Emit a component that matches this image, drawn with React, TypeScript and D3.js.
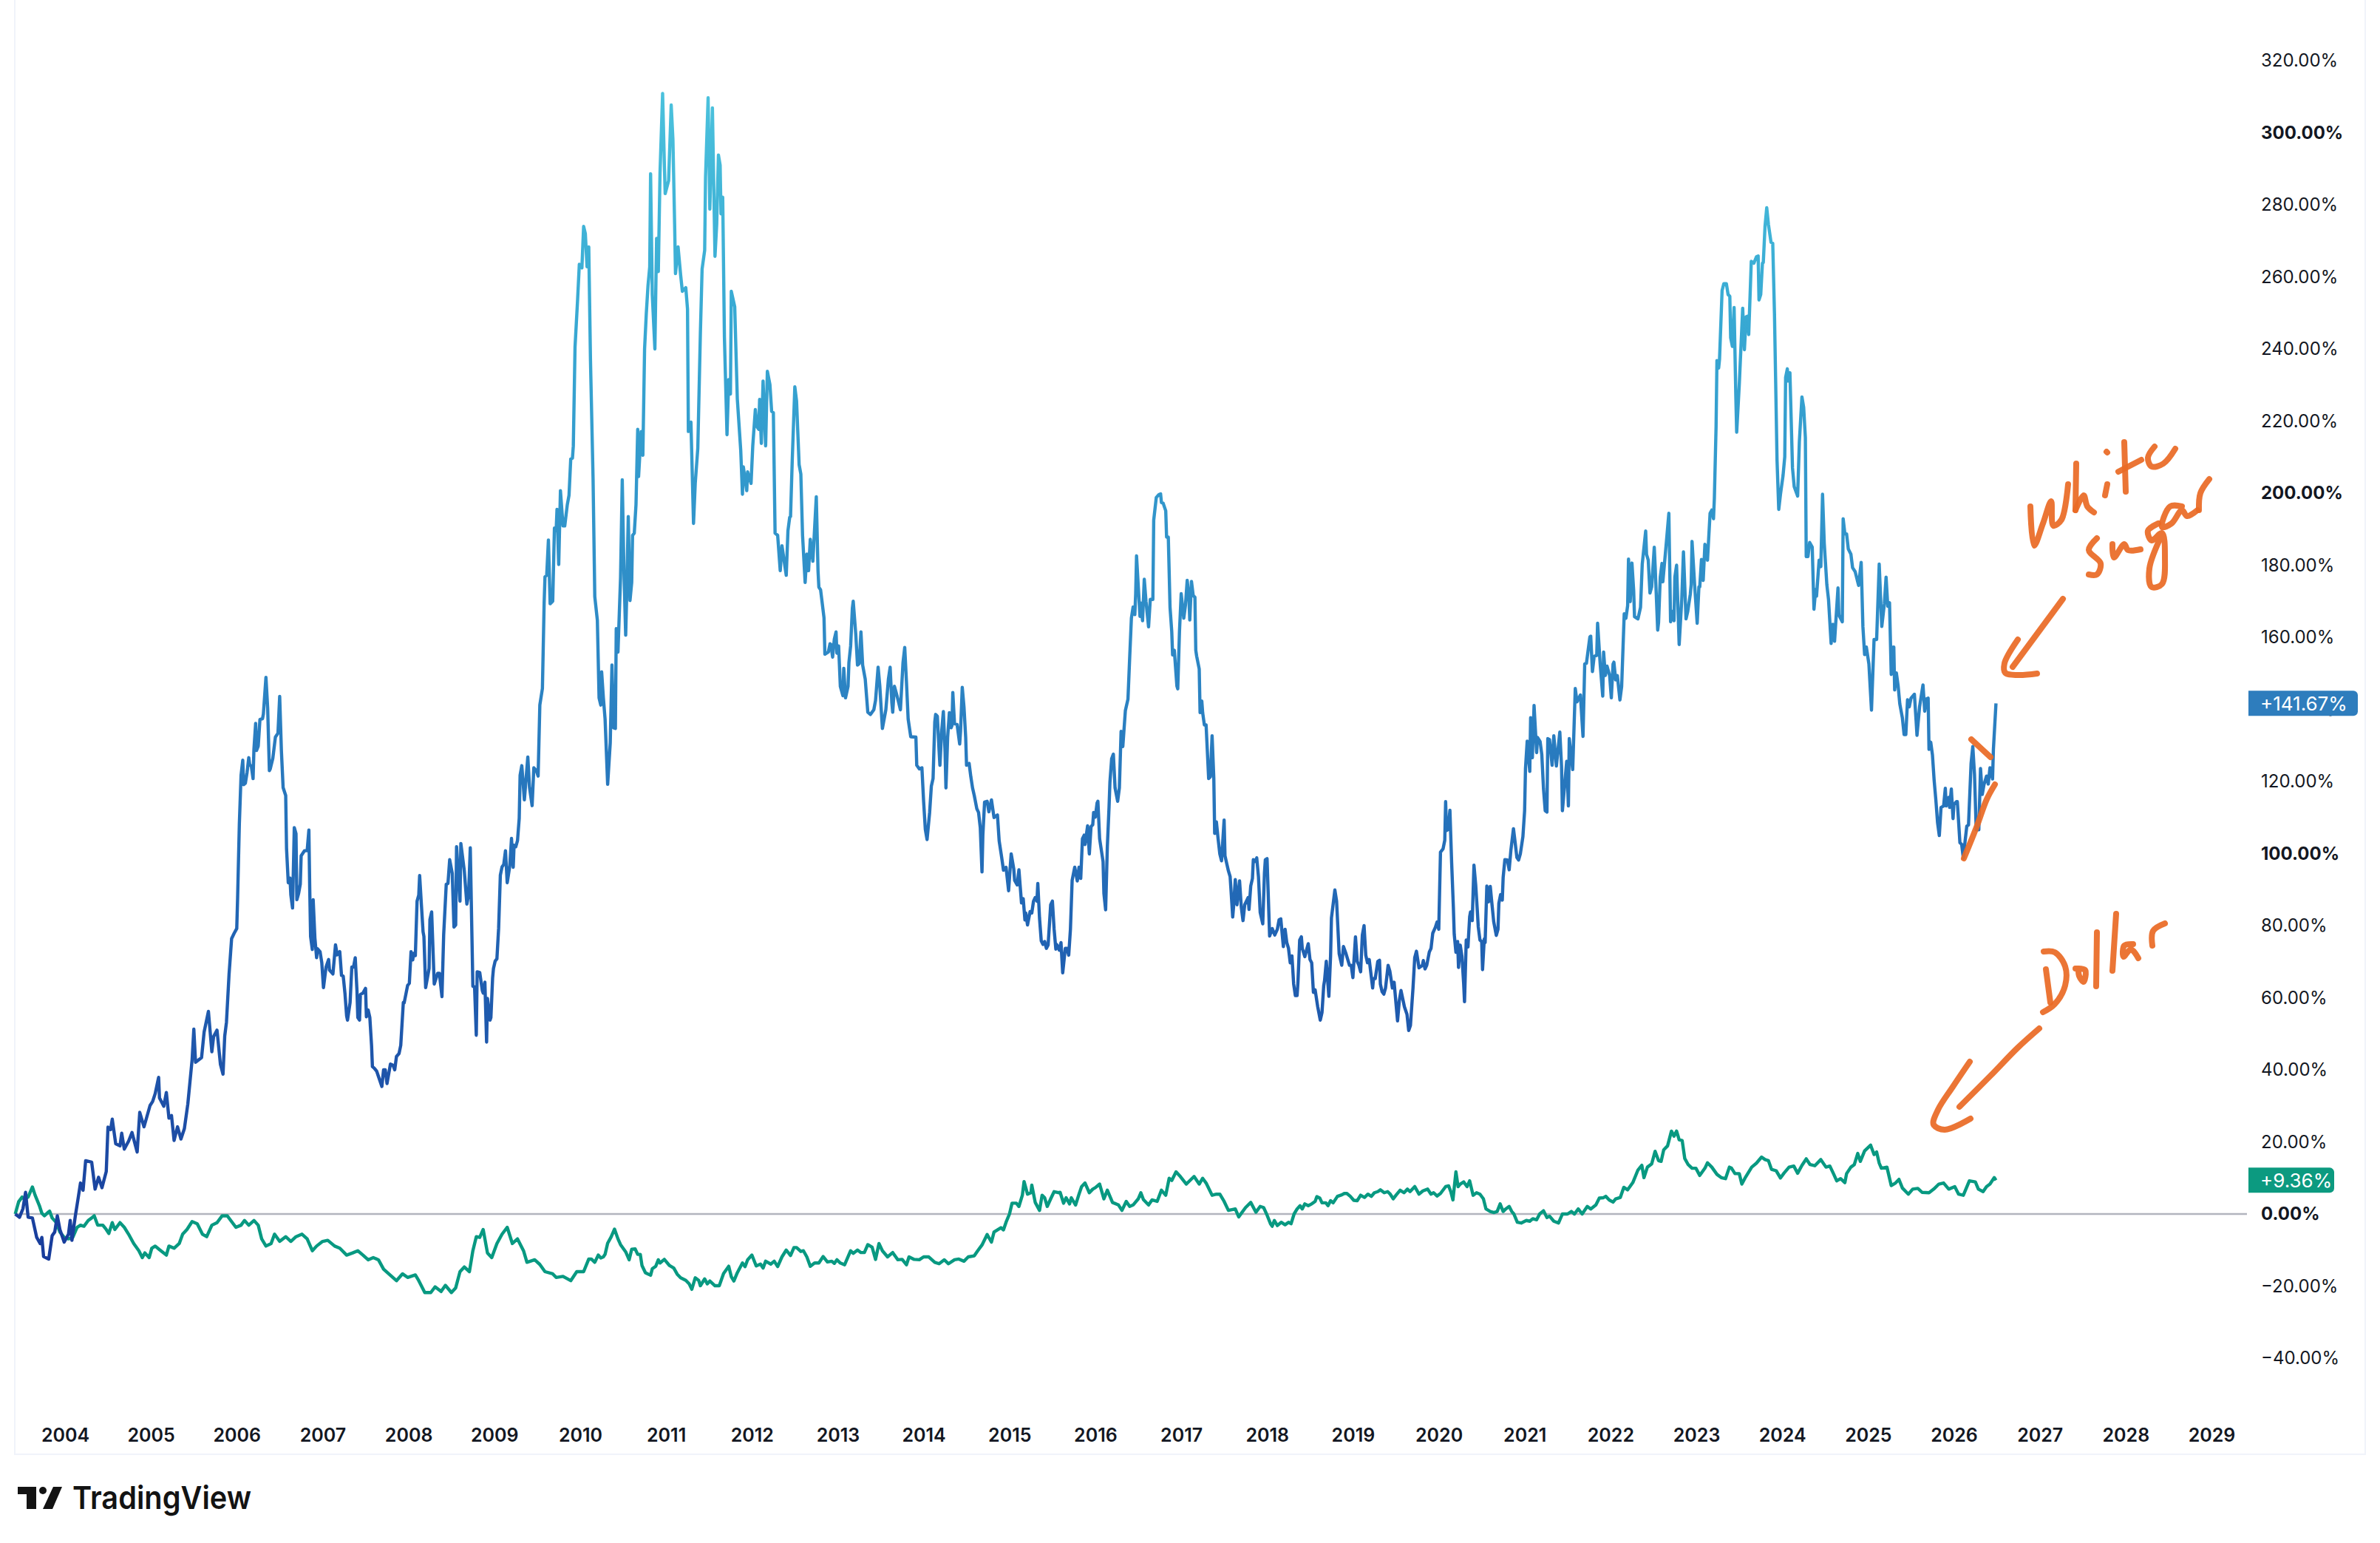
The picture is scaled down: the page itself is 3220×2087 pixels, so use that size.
import React, { useRef, useEffect } from 'react';
import * as d3 from 'd3';

// readings: [decimal year, % change]
const sugarSeries: [number, number][] = [
  [2003.42,0],[2003.47,-0.9],[2003.51,1.5],[2003.54,6],[2003.57,-0.9],[2003.62,-1.1],[2003.67,-6.5],[2003.71,-8.2],[2003.73,-6.5],[2003.75,-11.8],[2003.81,-12.5],[2003.85,-6],[2003.88,-5],[2003.91,-0.5],[2003.94,-4.3],[2003.99,-7.8],
  [2004.04,-5.6],[2004.06,-1.8],[2004.08,-7.3],[2004.12,-0.5],[2004.15,4],[2004.18,8.6],[2004.21,6.6],[2004.24,14.8],[2004.31,14.4],[2004.35,6.9],[2004.39,10.2],[2004.43,7.3],[2004.48,11.8],[2004.5,24.1],[2004.53,23.4],[2004.55,26.3],[2004.59,19.5],[2004.64,18.9],[2004.66,22.4],[2004.69,18],[2004.74,20.2],[2004.78,22.6],[2004.84,17.2],[2004.87,28.2],[2004.92,24.2],[2004.99,30.1],
  [2005.02,31.2],[2005.05,33.4],[2005.09,37.9],[2005.1,32.2],[2005.15,29.9],[2005.18,33.7],[2005.21,26.6],[2005.24,27.3],[2005.27,20.4],[2005.31,24.2],[2005.35,20.8],[2005.39,23.7],[2005.43,30.5],[2005.48,42.8],[2005.5,51.3],[2005.52,42.1],[2005.59,43.4],[2005.62,50.5],[2005.67,56.2],[2005.71,45],[2005.73,49.2],[2005.77,51],[2005.81,41.5],[2005.84,38.8],[2005.86,49.4],[2005.88,53.2],[2005.91,66.4],[2005.94,76.4],[2005.97,77.9],
  [2006,79.2],[2006.01,87.7],[2006.03,108.1],[2006.05,121.7],[2006.07,125.9],[2006.08,119.1],[2006.1,119.5],[2006.12,122.5],[2006.14,126.6],[2006.15,124.7],[2006.17,124.2],[2006.19,120.8],[2006.2,128.9],[2006.22,136.1],[2006.23,128.6],[2006.25,129.8],[2006.27,137.2],[2006.3,137.4],[2006.31,138.7],[2006.34,148.9],[2006.36,140.4],[2006.38,123],[2006.39,123.5],[2006.42,126.4],[2006.45,132.3],[2006.48,133.4],[2006.5,143.6],[2006.52,128.5],[2006.54,118.3],[2006.57,116.1],[2006.58,101.3],[2006.6,91.9],[2006.62,93.2],[2006.63,88.5],[2006.65,84.9],[2006.67,107.2],[2006.69,105.5],[2006.7,87.2],[2006.72,88.9],[2006.74,91.5],[2006.75,99.4],[2006.79,100.8],[2006.82,100.8],[2006.84,106.5],[2006.85,90.2],[2006.86,77],[2006.88,73.4],[2006.89,87.2],[2006.91,76.6],[2006.93,71.1],[2006.94,73.6],[2006.97,72.8],[2006.99,69.8],
  [2007.01,62.8],[2007.04,68.5],[2007.07,70.6],[2007.08,67.7],[2007.12,66.6],[2007.15,74.7],[2007.17,71.9],[2007.2,72.8],[2007.22,66.2],[2007.24,66],[2007.26,61.3],[2007.28,54.9],[2007.29,53.8],[2007.32,58.7],[2007.34,68.5],[2007.36,68.5],[2007.38,71.1],[2007.4,62.1],[2007.41,54.5],[2007.43,53.8],[2007.44,60.9],[2007.47,61.3],[2007.5,62.6],[2007.51,54.7],[2007.53,56.6],[2007.55,54.5],[2007.57,46.8],[2007.58,40.9],[2007.6,40.5],[2007.63,39.6],[2007.66,37.5],[2007.69,35.4],[2007.71,40],[2007.73,40],[2007.75,36.2],[2007.79,41.6],[2007.82,41.3],[2007.84,40],[2007.86,43.7],[2007.89,44.5],[2007.91,46.8],[2007.94,58.7],[2007.95,58.6],[2007.99,63.4],
  [2008.01,64],[2008.03,72.8],[2008.05,70.5],[2008.06,72.3],[2008.08,71.7],[2008.1,86.8],[2008.12,88.5],[2008.13,93.9],[2008.15,86],[2008.17,78.3],[2008.18,77],[2008.2,62.8],[2008.24,68.1],[2008.25,81.7],[2008.27,83.8],[2008.3,63.8],[2008.34,66.8],[2008.36,66.8],[2008.39,60.3],[2008.41,77.5],[2008.44,91.5],[2008.46,91.7],[2008.48,98.3],[2008.51,94.5],[2008.53,79.6],[2008.55,80.2],[2008.56,101.9],[2008.6,86.8],[2008.61,102.8],[2008.65,95.3],[2008.68,86],[2008.7,88.5],[2008.72,101.6],[2008.75,63.2],[2008.77,63],[2008.79,49.6],[2008.8,67.2],[2008.83,67],[2008.86,62],[2008.87,61.3],[2008.89,64.3],[2008.91,47.7],[2008.92,59.8],[2008.95,53.8],[2008.96,54.5],[2008.98,65.5],[2008.99,68.1],
  [2009.01,70.2],[2009.03,70.8],[2009.05,79.2],[2009.07,94],[2009.09,96.3],[2009.11,97],[2009.13,100.8],[2009.15,91.9],[2009.18,96.6],[2009.2,104.2],[2009.22,96.2],[2009.23,102.3],[2009.25,101.9],[2009.27,103.6],[2009.29,109.8],[2009.3,121.7],[2009.32,124.4],[2009.35,114.9],[2009.39,126.8],[2009.41,118.3],[2009.44,113.3],[2009.46,123.8],[2009.49,123],[2009.51,121.5],[2009.53,141.2],[2009.56,145.8],[2009.58,169.3],[2009.59,176.8],[2009.61,177.2],[2009.63,187],[2009.65,169.3],[2009.68,170],[2009.7,190.3],[2009.72,189.6],[2009.73,195.5],[2009.75,180.2],[2009.77,200.7],[2009.8,190.9],[2009.82,190.9],[2009.85,196.8],[2009.87,199.4],[2009.89,209.5],[2009.91,209.7],[2009.92,213.1],[2009.94,240.6],[2009.97,253.7],[2009.99,263.5],
  [2010.02,262.5],[2010.04,274],[2010.06,272],[2010.08,262.8],[2010.1,268.3],[2010.12,236.7],[2010.15,204],[2010.17,171.3],[2010.2,164.7],[2010.22,143.2],[2010.24,141.2],[2010.25,150.4],[2010.27,143.2],[2010.29,137.3],[2010.32,119.2],[2010.35,130.7],[2010.37,152.3],[2010.39,134.9],[2010.41,134.7],[2010.42,162.4],[2010.44,155.9],[2010.47,176.5],[2010.49,203.7],[2010.51,177.8],[2010.53,160.6],[2010.54,170],[2010.56,193.5],[2010.58,170.2],[2010.6,175.2],[2010.61,188.3],[2010.63,188.9],[2010.65,196.8],[2010.67,217.7],[2010.68,204.6],[2010.71,217.1],[2010.73,210.5],[2010.75,240],[2010.77,249.8],[2010.79,257.6],[2010.81,262.8],[2010.82,288.6],[2010.84,255],[2010.87,240],[2010.89,270.7],[2010.91,261.5],[2010.93,289],[2010.96,310.9],[2010.98,291.6],[2010.99,283.1],
  [2011.03,286.7],[2011.06,307.7],[2011.08,298.2],[2011.1,274.6],[2011.11,260.9],[2011.14,268.3],[2011.17,260.5],[2011.19,256],[2011.23,257],[2011.25,251.1],[2011.26,217.1],[2011.29,219.7],[2011.32,191.6],[2011.34,202.7],[2011.37,212.5],[2011.4,244.5],[2011.42,262.2],[2011.45,267.4],[2011.46,287.7],[2011.49,309.7],[2011.51,278.8],[2011.54,306.9],[2011.57,265.7],[2011.59,274.6],[2011.61,293.8],[2011.63,291],[2011.64,277.5],[2011.66,282.1],[2011.68,243.2],[2011.71,216.2],[2011.73,231.5],[2011.75,227.5],[2011.76,256],[2011.8,251.7],[2011.83,226.2],[2011.87,211.8],[2011.89,199.7],[2011.9,207.3],[2011.94,200.7],[2011.95,205.9],[2011.99,202.7],
  [2012.01,213.1],[2012.04,223.2],[2012.06,218.4],[2012.08,217.7],[2012.09,226],[2012.11,213.8],[2012.13,231.1],[2012.16,213.1],[2012.18,233.8],[2012.21,230.1],[2012.23,222.7],[2012.25,222.3],[2012.27,188.9],[2012.3,188.3],[2012.33,178.5],[2012.35,185.4],[2012.4,177.2],[2012.42,189.6],[2012.44,193.3],[2012.45,193.5],[2012.47,209.2],[2012.5,229.5],[2012.52,225.6],[2012.55,207.9],[2012.57,205.3],[2012.59,188.3],[2012.62,175.2],[2012.64,183.1],[2012.66,178.5],[2012.68,187.2],[2012.71,181.1],[2012.75,199],[2012.77,178.5],[2012.78,173.9],[2012.8,173.2],[2012.84,165.4],[2012.85,155.3],[2012.89,155.9],[2012.91,158.2],[2012.92,158],[2012.94,154.5],[2012.96,159.5],[2012.98,161.5],[2012.99,155.6],
  [2013.01,157.6],[2013.03,146.4],[2013.06,143.8],[2013.07,151.4],[2013.09,143.2],[2013.12,146.4],[2013.13,153],[2013.15,157.6],[2013.17,168],[2013.18,170],[2013.21,160.8],[2013.23,152.3],[2013.25,152.7],[2013.27,161.5],[2013.29,152.3],[2013.32,148.4],[2013.35,139.2],[2013.38,138.6],[2013.42,139.9],[2013.44,142.5],[2013.47,151.7],[2013.49,146.4],[2013.52,134.7],[2013.56,139.9],[2013.59,148.4],[2013.61,151.7],[2013.63,141.9],[2013.64,139.2],[2013.66,146.4],[2013.69,143.8],[2013.73,139.9],[2013.76,153],[2013.78,157.2],[2013.8,147.7],[2013.82,137.3],[2013.85,132.4],[2013.91,132.3],[2013.92,124.5],[2013.95,123.5],[2013.98,123.8],
  [2014,114.5],[2014.02,106.7],[2014.04,103.9],[2014.07,111.4],[2014.09,118.7],[2014.11,120.8],[2014.13,136.5],[2014.14,138.6],[2014.16,138.1],[2014.18,128.7],[2014.19,124.5],[2014.21,133.9],[2014.23,139.4],[2014.25,128.1],[2014.26,118.2],[2014.28,132.3],[2014.3,139.1],[2014.32,134.9],[2014.33,135.5],[2014.34,144.7],[2014.36,136],[2014.39,135.8],[2014.42,130.4],[2014.43,133.9],[2014.45,146.1],[2014.47,140.7],[2014.49,132.3],[2014.5,124.5],[2014.53,125],[2014.55,121.3],[2014.57,118.2],[2014.59,116.1],[2014.62,112.4],[2014.64,111.4],[2014.66,107.2],[2014.68,94.9],[2014.69,105.1],[2014.71,114.3],[2014.74,114.5],[2014.76,111.6],[2014.79,114.9],[2014.82,110],[2014.86,110.7],[2014.88,103.5],[2014.91,98.8],[2014.93,95.4],[2014.96,96.2],[2014.99,89.7],
  [2015.01,96.7],[2015.02,99.9],[2015.05,95.7],[2015.06,92.6],[2015.09,91.3],[2015.11,95.5],[2015.13,89.4],[2015.14,86.3],[2015.16,87.5],[2015.18,81.6],[2015.19,83.5],[2015.21,80.2],[2015.24,83.9],[2015.26,83.5],[2015.28,86.8],[2015.3,87.8],[2015.32,86.8],[2015.33,91.7],[2015.35,82.1],[2015.37,75.8],[2015.39,74.8],[2015.41,75.6],[2015.43,73.7],[2015.45,74.6],[2015.48,85.8],[2015.5,86.8],[2015.52,79],[2015.54,73.5],[2015.55,74.8],[2015.58,73.2],[2015.6,75.3],[2015.62,66.9],[2015.65,73.7],[2015.67,73.7],[2015.69,71.8],[2015.71,79],[2015.73,92.6],[2015.76,96.2],[2015.79,92.4],[2015.81,96.2],[2015.83,93.1],[2015.85,104.1],[2015.87,105.1],[2015.88,102.5],[2015.91,107.7],[2015.93,99.9],[2015.95,107.5],[2015.97,108],[2015.98,111.4],
  [2016,110.1],[2016.02,114],[2016.03,114.5],[2016.05,104.1],[2016.09,97.8],[2016.1,88.9],[2016.12,84.4],[2016.14,102],[2016.16,113],[2016.17,119.8],[2016.19,126.3],[2016.21,127.6],[2016.23,118.2],[2016.26,114.5],[2016.28,118.2],[2016.3,133.9],[2016.32,129.7],[2016.35,139.7],[2016.38,142.8],[2016.4,154.3],[2016.42,165.3],[2016.44,168.4],[2016.46,166.3],[2016.47,172.1],[2016.48,182.6],[2016.5,174.2],[2016.52,165.8],[2016.53,169.5],[2016.55,164.6],[2016.57,176.1],[2016.59,170],[2016.62,162.9],[2016.64,170.5],[2016.67,170.5],[2016.68,192.5],[2016.71,198.8],[2016.74,199.6],[2016.76,199.8],[2016.77,197.4],[2016.79,197.2],[2016.82,195.1],[2016.83,187.8],[2016.85,187.8],[2016.87,168.4],[2016.89,161.6],[2016.9,155.1],[2016.92,156.4],[2016.95,146.5],[2016.96,145.7],[2016.98,161.6],
  [2017,172.1],[2017.03,165.3],[2017.05,169],[2017.07,175.8],[2017.09,171.1],[2017.1,164.8],[2017.12,175.5],[2017.14,171.6],[2017.16,171.1],[2017.17,156.4],[2017.18,154.8],[2017.21,151.2],[2017.22,139.1],[2017.24,142.3],[2017.25,139.1],[2017.27,135.7],[2017.29,135.7],[2017.32,120.8],[2017.34,121.3],[2017.36,132.7],[2017.38,120.8],[2017.39,105.6],[2017.41,108.8],[2017.43,104.1],[2017.45,99.9],[2017.47,98],[2017.5,109.3],[2017.51,99.4],[2017.55,95.2],[2017.57,93.6],[2017.59,86.3],[2017.6,82.4],[2017.61,85.2],[2017.63,92.8],[2017.65,85.8],[2017.68,92.4],[2017.7,85.2],[2017.72,81.4],[2017.74,85.8],[2017.78,87.8],[2017.79,84.5],[2017.81,91],[2017.83,93.1],[2017.84,98.3],[2017.86,97.8],[2017.88,98.8],[2017.9,93.6],[2017.92,83.7],[2017.95,80.5],[2017.97,94.7],[2017.98,98.3],
  [2018,98.6],[2018.03,77.1],[2018.06,79.2],[2018.09,77.4],[2018.12,79],[2018.14,81.6],[2018.16,81.9],[2018.19,74.2],[2018.21,79],[2018.23,75.3],[2018.25,73.7],[2018.27,69.7],[2018.29,71.6],[2018.31,63.8],[2018.33,60.6],[2018.35,60.6],[2018.36,64.3],[2018.38,76],[2018.4,76.9],[2018.41,73.7],[2018.44,71.4],[2018.48,75],[2018.5,70.6],[2018.52,69.7],[2018.54,61.5],[2018.56,62.2],[2018.59,57.5],[2018.62,53.8],[2018.64,55.9],[2018.66,63.3],[2018.67,64.8],[2018.69,70.1],[2018.72,60.4],[2018.74,71.6],[2018.75,82.1],[2018.79,89.9],[2018.81,86.8],[2018.84,72.2],[2018.87,69],[2018.89,74.2],[2018.92,72.2],[2018.96,69],[2018.98,69],
  [2019,65.6],[2019.03,76.9],[2019.05,70.1],[2019.07,69],[2019.09,67.2],[2019.11,77.4],[2019.13,80],[2019.15,71.8],[2019.17,69.7],[2019.19,70.6],[2019.23,62.7],[2019.24,65.3],[2019.26,65.3],[2019.29,70.1],[2019.31,70.4],[2019.32,63.8],[2019.34,61.7],[2019.36,61],[2019.38,62.7],[2019.41,69],[2019.43,67.4],[2019.46,62.7],[2019.48,64.3],[2019.52,53.6],[2019.54,59.1],[2019.56,62],[2019.6,57.5],[2019.63,55.4],[2019.65,50.9],[2019.67,52.3],[2019.7,62.7],[2019.72,71.1],[2019.74,72.9],[2019.77,68.3],[2019.81,69],[2019.82,70.3],[2019.84,68],[2019.86,69],[2019.89,72.7],[2019.91,73.7],[2019.93,77.9],[2019.96,79.5],[2019.98,81],
  [2020,79],[2020.02,100.4],[2020.05,101.3],[2020.07,103.7],[2020.08,114.4],[2020.09,106.4],[2020.11,106.7],[2020.13,112],[2020.15,97.5],[2020.17,85.2],[2020.18,77.7],[2020.2,72.6],[2020.21,72.6],[2020.22,75.6],[2020.23,68.4],[2020.25,74.6],[2020.27,71.5],[2020.29,64],[2020.3,58.9],[2020.32,76],[2020.34,74.1],[2020.36,82.5],[2020.37,83.8],[2020.39,81.4],[2020.41,96.8],[2020.43,91.4],[2020.45,83.8],[2020.46,79.7],[2020.48,76],[2020.5,75.6],[2020.51,67.8],[2020.53,76.3],[2020.54,75.3],[2020.56,91],[2020.58,86.6],[2020.6,90.9],[2020.62,85.9],[2020.64,81.1],[2020.67,77.3],[2020.69,79],[2020.7,86.2],[2020.72,88.6],[2020.74,87.1],[2020.75,93.4],[2020.77,98.3],[2020.8,98.2],[2020.82,95.5],[2020.84,100.9],[2020.87,106.9],[2020.89,103],[2020.91,98.9],[2020.93,98.2],[2020.95,99.9],[2020.98,104.7],
  [2021,111.9],[2021.01,123.5],[2021.03,131.2],[2021.06,122.8],[2021.07,137.7],[2021.09,126.6],[2021.11,141.1],[2021.14,128],[2021.15,132.2],[2021.18,131.1],[2021.2,127.5],[2021.22,118],[2021.24,111.9],[2021.26,111.5],[2021.27,131.9],[2021.29,131.6],[2021.32,124.5],[2021.34,132.7],[2021.37,124.3],[2021.41,133.7],[2021.43,124.3],[2021.44,111.9],[2021.49,125.6],[2021.51,113.2],[2021.52,131.9],[2021.56,123.3],[2021.59,145.8],[2021.61,142.1],[2021.65,144],[2021.68,132.5],[2021.7,152.6],[2021.72,152.8],[2021.76,160.1],[2021.77,160.3],[2021.79,150.5],[2021.81,154.7],[2021.84,155],[2021.85,163.9],[2021.88,152.6],[2021.91,143.7],[2021.92,155.9],[2021.94,149.4],[2021.96,152],[2021.99,149.4],
  [2022.01,143.2],[2022.03,152.6],[2022.04,153.1],[2022.06,148.2],[2022.08,149.4],[2022.11,142.6],[2022.13,146.3],[2022.16,166.5],[2022.18,165.3],[2022.2,168.8],[2022.21,181.7],[2022.23,169.9],[2022.25,180.6],[2022.27,173],[2022.28,165.7],[2022.32,165.1],[2022.35,168.3],[2022.37,180.3],[2022.41,189.5],[2022.42,183],[2022.44,181.4],[2022.46,172.3],[2022.48,174],[2022.51,185],[2022.52,179.8],[2022.55,162],[2022.56,164.1],[2022.58,176.7],[2022.6,180.5],[2022.61,175.4],[2022.65,186.1],[2022.68,194.4],[2022.7,164.3],[2022.72,167.2],[2022.74,164.6],[2022.75,176.7],[2022.77,180],[2022.8,158],[2022.83,170.4],[2022.85,183.7],[2022.88,165.1],[2022.9,167.2],[2022.93,172],[2022.94,174.6],[2022.95,186.6],[2022.98,174.6],
  [2023.01,163.9],[2023.03,174],[2023.04,174],[2023.06,181.6],[2023.08,175.8],[2023.1,185.8],[2023.11,185],[2023.13,181.4],[2023.16,194.4],[2023.18,195.3],[2023.2,192.9],[2023.21,198.6],[2023.23,218.5],[2023.24,236.8],[2023.26,234.7],[2023.27,237.1],[2023.3,256.2],[2023.32,258.1],[2023.35,258.1],[2023.37,255.1],[2023.39,254.6],[2023.4,243.1],[2023.42,240.7],[2023.44,251.5],[2023.46,226.9],[2023.47,216.9],[2023.5,230],[2023.54,251.3],[2023.56,239.8],[2023.58,248.9],[2023.6,249.1],[2023.61,244],[2023.64,264.3],[2023.67,263.8],[2023.7,265.6],[2023.72,265.8],[2023.73,253.6],[2023.75,255.1],[2023.77,263.8],[2023.78,264],[2023.8,274],[2023.82,279.2],[2023.84,274.5],[2023.87,269.6],[2023.89,269.3],[2023.91,249.9],[2023.93,222.7],[2023.94,209.1],[2023.96,195.5],[2023.98,199.7],
  [2024.01,204.9],[2024.03,210.1],[2024.04,232.1],[2024.06,234.5],[2024.07,231.1],[2024.09,233.4],[2024.12,207],[2024.14,201.8],[2024.18,199.2],[2024.2,214.3],[2024.23,226.7],[2024.25,223.8],[2024.27,215.4],[2024.28,182.4],[2024.3,182.4],[2024.32,186.3],[2024.35,185],[2024.37,167.8],[2024.39,173.3],[2024.4,171.4],[2024.43,181.4],[2024.45,179.6],[2024.47,199.7],[2024.49,186.1],[2024.52,174.6],[2024.54,170.4],[2024.57,158.3],[2024.59,163.6],[2024.61,158.9],[2024.65,173.7],[2024.66,166.2],[2024.7,164.3],[2024.71,192.9],[2024.73,188.7],[2024.75,188.7],[2024.77,184.5],[2024.8,183.1],[2024.82,179.3],[2024.85,178.2],[2024.89,174.4],[2024.92,180.8],[2024.94,163],[2024.96,155.2],[2024.98,157.3],
  [2025.01,152.6],[2025.04,139.8],[2025.07,159.4],[2025.1,159.4],[2025.13,180.3],[2025.16,163],[2025.19,169.3],[2025.21,176.7],[2025.23,168.6],[2025.25,169.6],[2025.27,149.7],[2025.28,157.2],[2025.3,157.3],[2025.31,145.4],[2025.33,150.1],[2025.35,146.6],[2025.37,141.5],[2025.4,137.6],[2025.42,133],[2025.44,133],[2025.46,142.7],[2025.48,140.7],[2025.5,143.1],[2025.54,144.2],[2025.56,136.8],[2025.57,132.8],[2025.6,140.7],[2025.62,143.8],[2025.64,146.8],[2025.66,139.5],[2025.68,142.9],[2025.7,143.1],[2025.71,128.9],[2025.73,130.9],[2025.75,127.4],[2025.77,120.3],[2025.79,114.8],[2025.81,108.5],[2025.83,105],[2025.85,112.8],[2025.88,113.2],[2025.9,118.1],[2025.91,113.2],[2025.94,115.6],[2025.95,112.8],[2025.97,117.9],[2025.99,109.7],
  [2026,113.6],[2026.03,114.4],[2026.04,114.4],[2026.07,103],[2026.09,102.6],[2026.11,98.7],[2026.13,103.4],[2026.15,107.6],[2026.17,107.9],[2026.2,125],[2026.22,129.7],[2026.24,121.9],[2026.26,106.6],[2026.29,106.6],[2026.31,123.6],[2026.33,116.4],[2026.35,119.1],[2026.38,121.5],[2026.4,119.3],[2026.42,123.8],[2026.43,123.4],[2026.45,120.7],[2026.46,128.9],[2026.49,141.67],
];

const dollarSeries: [number, number][] = [
  [2003.42,0],[2003.46,3.4],[2003.5,4.7],[2003.53,4],[2003.57,4.7],[2003.62,7.5],[2003.65,5.3],[2003.7,2.4],[2003.73,0.2],[2003.76,-0.5],[2003.8,0.4],[2003.82,0.8],[2003.85,-1.1],[2003.9,-2.4],[2003.94,-5],[2003.99,-6.5],
  [2004.04,-6.9],[2004.09,-6.5],[2004.14,-3.7],[2004.18,-3.1],[2004.22,-3.4],[2004.27,-1.8],[2004.31,-1.1],[2004.34,-0.5],[2004.38,-3.1],[2004.44,-3.1],[2004.48,-4.3],[2004.51,-5.4],[2004.55,-2.4],[2004.58,-4.3],[2004.64,-2.4],[2004.69,-3.7],[2004.74,-5.6],[2004.8,-8.2],[2004.86,-10.2],[2004.9,-12.1],[2004.93,-10.8],[2004.98,-12.1],
  [2005.01,-9.5],[2005.05,-8.9],[2005.1,-9.9],[2005.18,-11.4],[2005.21,-8.9],[2005.27,-9.5],[2005.33,-8.2],[2005.37,-5.6],[2005.42,-4.3],[2005.48,-2.1],[2005.54,-2.7],[2005.6,-5.6],[2005.65,-6.3],[2005.71,-3.1],[2005.77,-2.4],[2005.83,-0.5],[2005.89,-0.5],[2005.93,-1.8],[2005.99,-3.7],
  [2006.05,-3.1],[2006.09,-1.8],[2006.14,-3.1],[2006.2,-1.8],[2006.25,-3.1],[2006.29,-6.9],[2006.34,-8.9],[2006.4,-8.2],[2006.44,-5.6],[2006.5,-7.6],[2006.57,-6.3],[2006.63,-7.6],[2006.69,-6.3],[2006.76,-5.6],[2006.82,-6.9],[2006.88,-10.2],[2006.93,-8.9],
  [2007,-7.6],[2007.06,-7.3],[2007.14,-8.9],[2007.2,-9.5],[2007.28,-11.4],[2007.35,-10.8],[2007.41,-10.2],[2007.47,-11.4],[2007.53,-12.7],[2007.59,-12.1],[2007.65,-12.7],[2007.71,-15.3],[2007.77,-16.6],[2007.86,-18.5],[2007.93,-16.6],[2007.99,-17.6],
  [2008.08,-16.9],[2008.12,-18.5],[2008.19,-21.8],[2008.26,-21.8],[2008.31,-20.2],[2008.38,-21.5],[2008.43,-19.8],[2008.5,-21.8],[2008.55,-20.5],[2008.6,-16],[2008.65,-14.7],[2008.71,-16],[2008.75,-10.2],[2008.79,-6.3],[2008.83,-6.5],[2008.87,-4.3],[2008.92,-10.8],[2008.97,-12.1],
  [2009.03,-8.2],[2009.09,-5.6],[2009.15,-3.7],[2009.21,-8.2],[2009.27,-6.9],[2009.34,-10.2],[2009.38,-13.4],[2009.47,-12.7],[2009.53,-14],[2009.59,-16],[2009.68,-16.6],[2009.72,-17.6],[2009.8,-17.3],[2009.89,-18.5],[2009.96,-16],
  [2010.04,-16],[2010.1,-12.5],[2010.13,-12.5],[2010.17,-13.4],[2010.21,-11.4],[2010.24,-12.2],[2010.27,-11.9],[2010.29,-11.2],[2010.32,-8.1],[2010.36,-6.4],[2010.4,-4.2],[2010.44,-6.9],[2010.47,-8.5],[2010.53,-10.5],[2010.57,-12.7],[2010.6,-9.8],[2010.64,-9.7],[2010.67,-11.2],[2010.7,-11.2],[2010.72,-14.3],[2010.76,-16.3],[2010.82,-17],[2010.84,-15.2],[2010.88,-14.5],[2010.91,-12.7],[2010.93,-13.6],[2010.98,-12.6],
  [2011.04,-14.3],[2011.09,-15],[2011.13,-16.7],[2011.17,-17.7],[2011.23,-18.4],[2011.27,-19.4],[2011.3,-20.9],[2011.34,-17.7],[2011.38,-18.4],[2011.4,-19.9],[2011.45,-18],[2011.48,-19.4],[2011.51,-18.6],[2011.57,-19.9],[2011.62,-19.9],[2011.67,-16.5],[2011.73,-14.5],[2011.76,-17.4],[2011.79,-18.6],[2011.83,-16.3],[2011.89,-13.6],[2011.92,-14.6],[2011.95,-12.7],
  [2012,-11.4],[2012.05,-14.4],[2012.1,-13.9],[2012.13,-15],[2012.16,-13.1],[2012.22,-13.9],[2012.26,-13.1],[2012.3,-14.6],[2012.35,-11.9],[2012.4,-10],[2012.45,-11.5],[2012.49,-9.3],[2012.52,-9.3],[2012.57,-10.4],[2012.6,-10.2],[2012.64,-11.9],[2012.68,-14.5],[2012.73,-13.6],[2012.78,-13.6],[2012.83,-11.8],[2012.88,-13.3],[2012.93,-13.1],[2012.96,-13.7],[2012.99,-12.7],
  [2013.03,-13.6],[2013.08,-14.1],[2013.15,-10.2],[2013.18,-10.9],[2013.23,-10],[2013.27,-10.7],[2013.31,-10.7],[2013.35,-8.5],[2013.4,-9.2],[2013.44,-12.6],[2013.48,-8.2],[2013.52,-10.2],[2013.58,-11.9],[2013.64,-10.7],[2013.7,-12.7],[2013.75,-12.6],[2013.8,-14.1],[2013.83,-11.9],[2013.89,-12.6],[2013.95,-12.7],
  [2014,-11.9],[2014.06,-11.9],[2014.13,-13.4],[2014.18,-13.8],[2014.24,-12.7],[2014.29,-13.8],[2014.36,-12.7],[2014.41,-12.5],[2014.47,-13.1],[2014.52,-11.9],[2014.59,-11.6],[2014.63,-10.2],[2014.68,-8.6],[2014.74,-5.7],[2014.79,-7.8],[2014.82,-5],[2014.9,-3.8],[2014.93,-4.4],[2014.96,-2.3],
  [2015,0],[2015.03,3],[2015.08,3],[2015.11,2.1],[2015.15,5.2],[2015.17,9],[2015.21,5.5],[2015.25,5.9],[2015.26,8],[2015.3,3.2],[2015.35,1],[2015.38,5.2],[2015.41,4.5],[2015.44,2.1],[2015.48,4.2],[2015.52,6.2],[2015.57,5.9],[2015.59,6],[2015.63,3],[2015.66,4.5],[2015.7,2.8],[2015.72,4.5],[2015.77,2.5],[2015.81,5.5],[2015.84,7.6],[2015.88,8.6],[2015.93,5.9],[2015.97,6.9],
  [2016,7.3],[2016.05,8.3],[2016.1,4.2],[2016.14,6.6],[2016.2,3.2],[2016.27,2.5],[2016.31,1],[2016.36,3.5],[2016.4,2.1],[2016.44,2.5],[2016.5,4.2],[2016.53,5.9],[2016.56,4],[2016.62,2.5],[2016.66,3.9],[2016.72,3.5],[2016.77,6.6],[2016.82,5.2],[2016.86,9.9],[2016.89,9.3],[2016.94,11.7],[2016.99,10.4],
  [2017.06,8.3],[2017.15,10.4],[2017.21,8.3],[2017.25,9.9],[2017.29,8.6],[2017.36,5.2],[2017.41,5.5],[2017.45,5.5],[2017.5,3.5],[2017.55,1],[2017.63,1.4],[2017.67,-0.8],[2017.75,1.8],[2017.81,3.2],[2017.87,0.5],[2017.92,2.1],[2017.96,1.8],
  [2018,-0.3],[2018.04,-2.7],[2018.06,-3.4],[2018.085,-1.8],[2018.12,-3.2],[2018.165,-2.3],[2018.21,-3],[2018.25,-2.3],[2018.28,-2.7],[2018.315,0],[2018.35,1.4],[2018.385,2.3],[2018.41,1.4],[2018.44,2.8],[2018.48,2.3],[2018.52,2.8],[2018.56,3.5],[2018.58,4.8],[2018.615,4.4],[2018.64,3.1],[2018.685,3.1],[2018.71,2.3],[2018.74,3.7],[2018.77,3.1],[2018.82,4.9],[2018.87,5.3],[2018.9,5.7],[2018.93,5.7],[2018.97,4.9],
  [2019.01,3.8],[2019.05,3.7],[2019.09,5.2],[2019.135,4.6],[2019.175,5.5],[2019.215,4.9],[2019.25,5.9],[2019.29,6.2],[2019.32,6.7],[2019.365,5.9],[2019.405,6.2],[2019.435,5.5],[2019.47,4.2],[2019.505,5.3],[2019.55,6.6],[2019.595,5.9],[2019.635,6.9],[2019.665,6.2],[2019.72,7.6],[2019.77,5.5],[2019.815,6.4],[2019.87,6.9],[2019.91,5.5],[2019.94,5.9],[2019.98,5],
  [2020.02,5.7],[2020.08,7.6],[2020.115,7.8],[2020.14,6.2],[2020.165,3.9],[2020.2,11.7],[2020.225,7.6],[2020.25,8.3],[2020.29,8.9],[2020.33,7.6],[2020.36,9.2],[2020.4,5.2],[2020.44,5.9],[2020.48,5.5],[2020.52,4.2],[2020.55,1.4],[2020.6,0.7],[2020.645,0.4],[2020.68,0.7],[2020.715,2.8],[2020.75,0.7],[2020.78,1.4],[2020.82,2.1],[2020.85,0.7],[2020.875,0],[2020.915,-2.3],[2020.96,-2.5],
  [2021.02,-1.8],[2021.06,-2],[2021.095,-1.3],[2021.14,-1.6],[2021.175,0],[2021.22,0.9],[2021.26,-1],[2021.29,-0.6],[2021.34,-2],[2021.395,-2.5],[2021.44,0],[2021.5,0],[2021.545,0.7],[2021.58,0],[2021.625,1.4],[2021.67,0],[2021.73,2.1],[2021.77,1.4],[2021.83,2.5],[2021.87,4.4],[2021.915,4.5],[2021.945,4.9],[2021.985,3.9],
  [2022.03,3.3],[2022.06,4.2],[2022.115,4.6],[2022.155,7.4],[2022.2,6.7],[2022.26,8.7],[2022.32,12.2],[2022.365,13.5],[2022.39,10.1],[2022.43,13],[2022.48,13.9],[2022.52,17.4],[2022.56,14.8],[2022.59,14.6],[2022.62,17.8],[2022.665,18.9],[2022.71,23],[2022.74,21.6],[2022.77,23],[2022.8,20.6],[2022.835,20.4],[2022.865,15.4],[2022.905,13.7],[2022.95,12.7],[2022.995,12.7],
  [2023.04,10.7],[2023.1,12.7],[2023.13,14.2],[2023.18,13],[2023.24,11],[2023.29,10.1],[2023.34,9.8],[2023.385,13],[2023.41,12.7],[2023.45,11.2],[2023.5,11.2],[2023.53,8.3],[2023.575,10.3],[2023.645,13],[2023.7,14.1],[2023.76,15.8],[2023.8,15.1],[2023.84,14.8],[2023.875,12.4],[2023.93,12],[2023.98,10],
  [2024.02,11.3],[2024.08,13],[2024.135,13.3],[2024.18,11.3],[2024.23,13.5],[2024.28,15.3],[2024.325,13.7],[2024.38,13.4],[2024.45,15.1],[2024.51,13],[2024.555,13.3],[2024.595,11.3],[2024.635,9.2],[2024.68,9.8],[2024.73,8.7],[2024.75,11.2],[2024.8,13],[2024.84,13.7],[2024.88,16.8],[2024.91,14.6],[2024.96,17.5],
  [2025.03,19.1],[2025.07,16.5],[2025.1,17.2],[2025.13,14.1],[2025.155,12.7],[2025.22,13],[2025.27,7.9],[2025.32,8.6],[2025.36,9.6],[2025.4,7.2],[2025.47,5.5],[2025.52,6.9],[2025.58,7.1],[2025.63,6],[2025.71,5.9],[2025.765,6.9],[2025.825,8.3],[2025.88,8.6],[2025.94,6.9],
  [2026.01,7.6],[2026.055,5.5],[2026.11,5.2],[2026.18,9.2],[2026.25,8.9],[2026.285,6.9],[2026.34,6.2],[2026.38,7.6],[2026.42,8.3],[2026.47,10.1],[2026.49,9.36],
];

const priceTicks = [320, 300, 280, 260, 240, 220, 200, 180, 160, 140, 120, 100, 80, 60, 40, 20, 0, -20, -40];
const boldTicks = [300, 200, 100, 0];
const yearTicks = d3.range(2004, 2030);

// hand drawn notes on top of the chart, in page pixels
const noteStrokes: [number, number][][] = [
  [[2747,685],[2752,738],[2764,708],[2775,678],[2778,711],[2789,703],[2798,655]],
  [[2809,627],[2808,690]],
  [[2808,690],[2819,670],[2824,685],[2833,693]],
  [[2850,611],[2851,612]],
  [[2851,655],[2848,670]],
  [[2874,598],[2876,665]],
  [[2866,638],[2897,622]],
  [[2943,607],[2927,627],[2911,631],[2906,619],[2915,604]],
  [[2837,728],[2826,744],[2842,762],[2837,777],[2826,777]],
  [[2858,736],[2860,754],[2874,736],[2879,744],[2896,743]],
  [[2920,708],[2906,718],[2911,731],[2925,721],[2929,754],[2925,790],[2911,794],[2908,769],[2925,723]],
  [[2952,685],[2936,685],[2925,713],[2938,708],[2952,690],[2959,698],[2973,690]],
  [[2975,690],[2977,667],[2989,648]],
  [[2791,810],[2723,902]],
  [[2730,865],[2712,897],[2713,910],[2730,913],[2756,911]],
  [[2667,1000],[2693,1024]],
  [[2657,1161],[2674,1119],[2688,1081],[2699,1061]],
  [[2768,1311],[2774,1356]],
  [[2765,1287],[2780,1288],[2794,1307],[2794,1333],[2780,1358],[2764,1369]],
  [[2808,1310],[2821,1312],[2819,1328],[2813,1320],[2812,1310]],
  [[2837,1261],[2836,1334]],
  [[2863,1236],[2858,1313]],
  [[2886,1277],[2874,1279],[2873,1294],[2883,1284],[2893,1296]],
  [[2912,1279],[2913,1259],[2929,1249]],
  [[2759,1391],[2730,1417],[2693,1455],[2651,1497]],
  [[2665,1436],[2642,1470],[2622,1501],[2616,1521],[2631,1528],[2666,1513]],
];

const fontStack = 'Inter, "Noto Sans", sans-serif';

export default function App() {
  const svgRef = useRef<SVGSVGElement>(null);

  useEffect(() => {
    if (!svgRef.current) return;
    const svg = d3.select(svgRef.current);
    svg.selectAll('*').remove();

    const width = 3220;
    const height = 2087;
    svg.attr('width', width).attr('height', height);

    const x = d3.scaleLinear().domain([2004, 2029]).range([88, 2992]);
    const y = d3.scaleLinear().domain([-40, 320]).range([1837, 82]);

    svg.append('rect').attr('width', width).attr('height', height).attr('fill', '#ffffff');

    // chart frame
    svg.append('rect')
      .attr('x', 20).attr('y', -4)
      .attr('width', 3180).attr('height', 1971)
      .attr('fill', 'none')
      .attr('stroke', '#f0f3fa')
      .attr('stroke-width', 2);

    // line gradient follows the height of the curve
    const grad = svg.append('defs').append('linearGradient')
      .attr('id', 'sugarGrad')
      .attr('gradientUnits', 'userSpaceOnUse')
      .attr('x1', 0).attr('x2', 0)
      .attr('y1', y(315)).attr('y2', y(-15));
    [
      [0, '#4cc3dd'],
      [0.2, '#38a9d3'],
      [0.5, '#2c85c4'],
      [0.72, '#2063b3'],
      [0.88, '#1d4ea6'],
      [1, '#173a9a'],
    ].forEach(([offset, color]) => {
      grad.append('stop').attr('offset', offset as number).attr('stop-color', color as string);
    });

    // zero line
    svg.append('line')
      .attr('x1', 20).attr('x2', 3040)
      .attr('y1', y(0)).attr('y2', y(0))
      .attr('stroke', '#b2b5be')
      .attr('stroke-width', 2.4);

    const line = d3.line<[number, number]>()
      .x(d => x(d[0]))
      .y(d => y(d[1]));

    svg.append('path')
      .attr('d', line(dollarSeries))
      .attr('fill', 'none')
      .attr('stroke', '#089981')
      .attr('stroke-width', 4.4)
      .attr('stroke-linejoin', 'round');

    svg.append('path')
      .attr('d', line(sugarSeries))
      .attr('fill', 'none')
      .attr('stroke', 'url(#sugarGrad)')
      .attr('stroke-width', 4.4)
      .attr('stroke-linejoin', 'round');

    // axes
    const yAxis = d3.axisRight(y)
      .tickValues(priceTicks)
      .tickSize(0)
      .tickPadding(0)
      .tickFormat(d => `${+d < 0 ? '−' : ''}${Math.abs(+d).toFixed(2)}%`);
    const yG = svg.append('g').attr('transform', 'translate(3059,0)').call(yAxis);
    yG.select('.domain').remove();
    yG.selectAll('text')
      .attr('font-family', fontStack)
      .attr('font-size', 24)
      .attr('fill', '#131722')
      .attr('font-weight', (d: any) => (boldTicks.includes(d) ? 700 : 400));

    const xAxis = d3.axisBottom(x)
      .tickValues(yearTicks)
      .tickSize(0)
      .tickPadding(0)
      .tickFormat(d => String(d));
    const xG = svg.append('g').attr('transform', 'translate(0,1932)').call(xAxis);
    xG.select('.domain').remove();
    xG.selectAll('text')
      .attr('font-family', fontStack)
      .attr('font-size', 25)
      .attr('font-weight', 600)
      .attr('fill', '#131722');

    // last value badges
    const badge = (value: number, label: string, w: number, color: string) => {
      const cy = y(value);
      svg.append('path')
        .attr('d', `M3042,${cy - 17}h${w - 6}a6,6 0 0 1 6,6v22a6,6 0 0 1 -6,6h-${w - 6}z`)
        .attr('fill', color);
      svg.append('text')
        .attr('x', 3058).attr('y', cy)
        .attr('dy', '0.36em')
        .attr('font-family', fontStack)
        .attr('font-size', 26)
        .attr('fill', '#ffffff')
        .text(label);
    };
    badge(141.67, '+141.67%', 148, '#2e7dbd');
    badge(9.36, '+9.36%', 116, '#0c9a80');

    // orange notes
    const pen = d3.line<[number, number]>().curve(d3.curveCatmullRom.alpha(0.5));
    svg.append('g')
      .selectAll('path')
      .data(noteStrokes)
      .join('path')
      .attr('d', d => pen(d))
      .attr('fill', 'none')
      .attr('stroke', '#ea6a26')
      .attr('stroke-opacity', 0.93)
      .attr('stroke-width', 8)
      .attr('stroke-linecap', 'round')
      .attr('stroke-linejoin', 'round');

    // TradingView mark
    const logo = svg.append('g').attr('fill', '#131313');
    logo.append('path').attr('d', 'M24,2011H49V2041H36V2021H24Z');
    logo.append('circle').attr('cx', 58).attr('cy', 2016).attr('r', 5);
    logo.append('path').attr('d', 'M72,2011H84L71,2041H58Z');
    logo.append('text')
      .attr('x', 98).attr('y', 2041)
      .attr('font-family', fontStack)
      .attr('font-size', 43)
      .attr('font-weight', 600)
      .attr('textLength', 242)
      .attr('lengthAdjust', 'spacingAndGlyphs')
      .text('TradingView');
  }, []);

  return <svg ref={svgRef} style={{ position: 'absolute', left: 0, top: 0, display: 'block' }} />;
}
